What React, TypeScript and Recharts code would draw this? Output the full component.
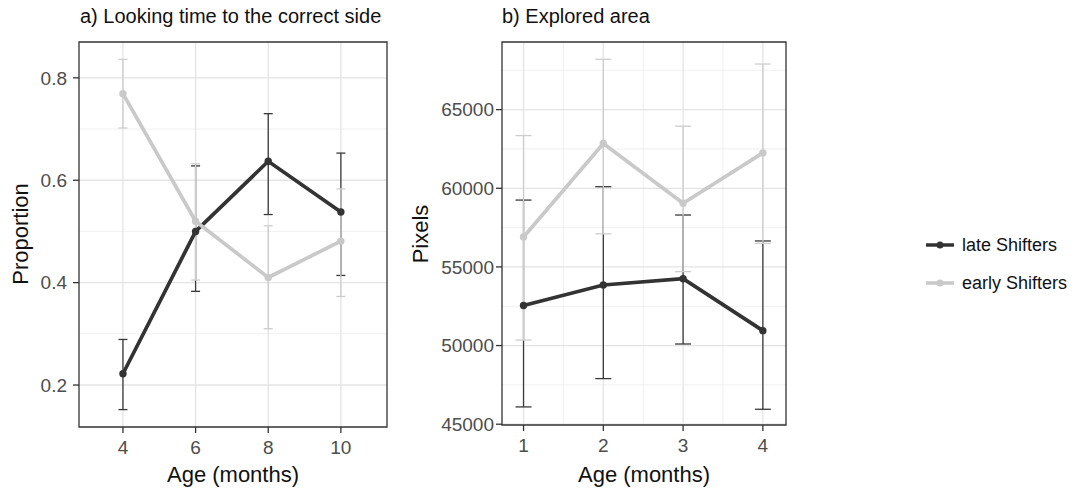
import React from 'react'
import { ComposedChart, Line, XAxis, YAxis, CartesianGrid, ErrorBar, ReferenceArea, Label } from 'recharts'

// a) looking time, ages in months
const ageA = [4, 6, 8, 10]
const lateA = [0.222, 0.5, 0.637, 0.538]
const lateALo = [0.152, 0.383, 0.533, 0.414]
const lateAHi = [0.289, 0.628, 0.73, 0.653]
const earlyA = [0.769, 0.52, 0.41, 0.481]
const earlyALo = [0.702, 0.405, 0.31, 0.373]
const earlyAHi = [0.836, 0.632, 0.511, 0.583]
const ticksA = [0.2, 0.4, 0.6, 0.8]
const minorA = [0.3, 0.5, 0.7]

// b) explored area
const ageB = [1, 2, 3, 4]
const lateB = [52550, 53850, 54250, 50950]
const lateBLo = [46100, 47900, 50100, 45950]
const lateBHi = [59250, 60100, 58300, 56650]
const earlyB = [56900, 62850, 59050, 62250]
const earlyBLo = [50350, 57100, 54700, 56500]
const earlyBHi = [63350, 68200, 63950, 67900]
const ticksB = [45000, 50000, 55000, 60000, 65000]
const minorB = [47500, 52500, 57500, 62500, 67500]
const minorBx = [1.5, 2.5, 3.5]

const seriesNames = ['late Shifters', 'early Shifters']

const DARK = '#333333'
const LIGHT = '#c9c9c9'
const FONT = '"Liberation Sans", Arial, sans-serif'

const build = (ages: number[], late: number[], lateLo: number[], lateHi: number[], early: number[], earlyLo: number[], earlyHi: number[]) =>
    ages.map((age, i) => ({
        age,
        late: late[i],
        lateErr: [late[i] - lateLo[i], lateHi[i] - late[i]],
        early: early[i],
        earlyErr: [early[i] - earlyLo[i], earlyHi[i] - early[i]],
    }))

const dataA = build(ageA, lateA, lateALo, lateAHi, earlyA, earlyALo, earlyAHi)
const dataB = build(ageB, lateB, lateBLo, lateBHi, earlyB, earlyBLo, earlyBHi)

const tickStyle = { fontSize: 19, fill: '#4d4d4d', fontFamily: FONT }

function Panel({ data, xDomain, yDomain, xTicks, yTicks, yMinor, xMinor, yTitle, yAxisWidth, marginRight, xHeight, capW, tickMarginY }: any) {
    return (
        <ComposedChart width={400} height={494} data={data} margin={{ top: 42, right: marginRight, bottom: 0, left: 0 }}>
            <CartesianGrid stroke="#ececec" strokeWidth={0.8} horizontalValues={yMinor} verticalValues={xMinor} vertical={xMinor.length > 0} />
            <CartesianGrid stroke="#e4e4e4" strokeWidth={1.3} horizontalValues={yTicks} verticalValues={xTicks} />
            <XAxis
                dataKey="age"
                type="number"
                domain={xDomain}
                ticks={xTicks}
                allowDataOverflow
                height={xHeight}
                axisLine={false}
                tickLine={{ stroke: DARK, strokeWidth: 1.3 }}
                tickSize={6}
                tickMargin={8}
                tick={tickStyle}
                label={{ value: 'Age (months)', position: 'insideBottom', offset: 12, style: { fontSize: 22, fill: '#111', fontFamily: FONT } }}
            />
            <YAxis
                type="number"
                domain={yDomain}
                ticks={yTicks}
                allowDataOverflow
                width={yAxisWidth}
                axisLine={false}
                tickLine={{ stroke: DARK, strokeWidth: 1.3 }}
                tickSize={6}
                tickMargin={tickMarginY}
                tick={tickStyle}
            >
                <Label
                    content={() => (
                        <text x={28} y={234} transform="rotate(-90 28 234)" textAnchor="middle" fontSize={22} fill="#111" fontFamily={FONT}>
                            {yTitle}
                        </text>
                    )}
                />
            </YAxis>
            <ReferenceArea x1={xDomain[0]} x2={xDomain[1]} y1={yDomain[0]} y2={yDomain[1]} fill="none" stroke={DARK} strokeWidth={1.3} ifOverflow="visible" />
            {/* error bars go underneath the lines */}
            <Line dataKey="late" stroke="none" dot={false} activeDot={false} legendType="none" isAnimationActive={false}>
                <ErrorBar dataKey="lateErr" width={capW} stroke="#3a3a3a" strokeWidth={1.3} />
            </Line>
            <Line dataKey="early" stroke="none" dot={false} activeDot={false} legendType="none" isAnimationActive={false}>
                <ErrorBar dataKey="earlyErr" width={capW} stroke="#cdcdcd" strokeWidth={1.3} />
            </Line>
            <Line dataKey="late" name={seriesNames[0]} stroke={DARK} strokeWidth={3.7} dot={{ r: 3.7, fill: DARK, stroke: DARK, strokeWidth: 0 }} activeDot={false} isAnimationActive={false} />
            <Line dataKey="early" name={seriesNames[1]} stroke={LIGHT} strokeWidth={3.7} dot={{ r: 3.7, fill: LIGHT, stroke: LIGHT, strokeWidth: 0 }} activeDot={false} isAnimationActive={false} />
        </ComposedChart>
    )
}

export default function App() {
    return (
        <div style={{ position: 'absolute', left: 0, top: 0, width: 1074, height: 494, background: '#fff', fontFamily: FONT }}>
            <div style={{ position: 'absolute', left: 0, top: 0 }}>
                <Panel data={dataA} xDomain={[2.79, 11.27]} yDomain={[0.118, 0.87]} xTicks={ageA} yTicks={ticksA}
                    yMinor={minorA} xMinor={[]} yTitle="Proportion" yAxisWidth={79} marginRight={13} xHeight={67} capW={4.5} tickMarginY={6} />
            </div>
            <div style={{ position: 'absolute', left: 400, top: 0 }}>
                <Panel data={dataB} xDomain={[0.73, 4.29]} yDomain={[44950, 69300]} xTicks={ageB} yTicks={ticksB}
                    yMinor={minorB} xMinor={minorBx} yTitle="Pixels" yAxisWidth={102} marginRight={14} xHeight={69} capW={8} tickMarginY={2} />
            </div>
            <div style={{ position: 'absolute', left: 80, top: 5, fontSize: 20, color: '#111', whiteSpace: 'nowrap' }}>a) Looking time to the correct side</div>
            <div style={{ position: 'absolute', left: 502, top: 5, fontSize: 20, color: '#111', whiteSpace: 'nowrap' }}>b) Explored area</div>
            {/* legend */}
            {seriesNames.map((name, i) => (
                <div key={name} style={{ position: 'absolute', left: 924, top: 233 + i * 38, height: 24, display: 'flex', alignItems: 'center', fontSize: 18, color: '#111' }}>
                    <svg width={32} height={24}>
                        <line x1={2} y1={12} x2={30} y2={12} stroke={i === 0 ? DARK : LIGHT} strokeWidth={3.5} />
                        <circle cx={16} cy={12} r={3.5} fill={i === 0 ? DARK : LIGHT} />
                    </svg>
                    <span style={{ marginLeft: 6 }}>{name}</span>
                </div>
            ))}
        </div>
    )
}
